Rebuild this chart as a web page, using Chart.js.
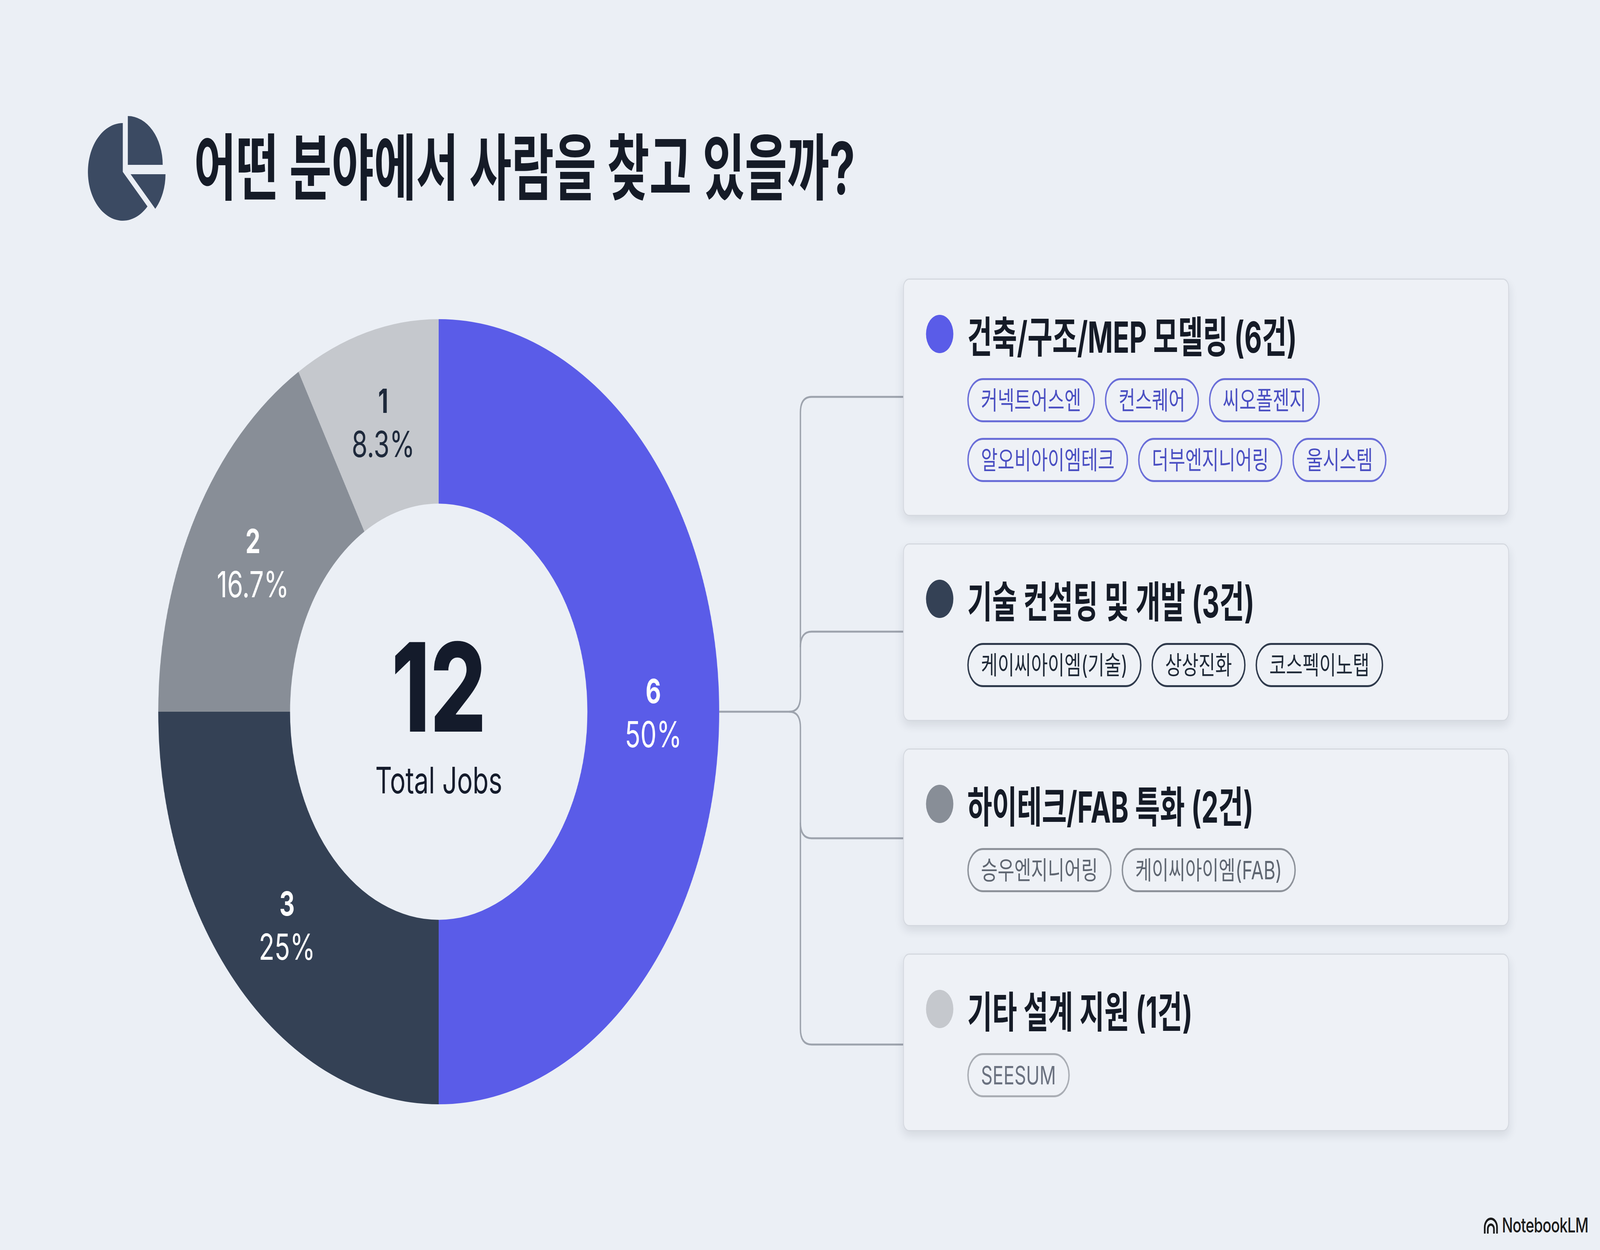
<!DOCTYPE html>
<html lang="ko">
<head>
<meta charset="utf-8">
<script src="https://cdn.jsdelivr.net/npm/chart.js@4.4.1/dist/chart.umd.min.js"></script>
<style>
  html, body { margin: 0; padding: 0; background: #ebeff5; overflow: hidden; }
  #stage {
    width: 5733px; height: 3200px; position: absolute; left: 0; top: 0; overflow: hidden;
    background: #ebeff5; transform-origin: 0 0;
    font-family: Inter, "Noto Sans CJK KR", sans-serif; color: #111827;
  }
  #title {
    position: absolute; left: 695px; top: 330px; height: 200px; line-height: 200px;
    font-size: 185px; font-weight: 700; white-space: nowrap;
    transform: scaleX(0.89); transform-origin: left center; color: #151b27;
  }
  #chartBox { position: absolute; left: 567px; top: 817px; width: 2010px; height: 2010px; }
  #cards {
    position: absolute; left: 3236px; top: 713px; width: 2171px;
    display: flex; flex-direction: column; gap: 70px;
  }
  .card {
    box-sizing: border-box; background: #eef1f6; border: 3px solid #d5d9e0; border-radius: 22px;
    box-shadow: 0 12px 26px rgba(30, 41, 59, 0.10);
    padding: 79px 79px 84px 79px;
  }
  .head { display: flex; align-items: center; height: 120px; }
  .dot { width: 98px; height: 98px; border-radius: 50%; flex: none; margin-right: 50px; }
  .head span {
    display: inline-block; font-size: 110px; font-weight: 700; white-space: nowrap;
    transform: scaleX(0.88); transform-origin: left center; color: #151b27;
  }
  .tags {
    display: flex; flex-wrap: wrap; gap: 40px 36px;
    margin: 53px 0 0 148px; width: 1700px;
  }
  .tag {
    box-sizing: border-box; height: 113px; line-height: 103px; padding: 0 44px;
    border: 5px solid; border-radius: 60px; font-size: 65px; white-space: nowrap;
  }
  #links { position: absolute; left: 0; top: 0; }
  #footer {
    position: absolute; right: 42px; top: 3105px; display: flex; align-items: center;
    font-size: 52px; font-weight: 500; color: #1b1b1b; letter-spacing: -1px;
  }
  #footer svg { margin-right: 14px; }
</style>
</head>
<body>
<div id="stage">

<svg id="icon" width="700" height="700" style="position:absolute;left:0;top:0">
  <path d="M440 440 L528.4 528.4 A125 125 0 1 1 440 315 Z" fill="#3b4a62"/>
  <path d="M458 422 L458 297 A125 125 0 0 1 583 422 Z" fill="#3b4a62"/>
  <path d="M468 446 L593 446 A125 125 0 0 1 556.4 534.4 Z" fill="#3b4a62"/>
</svg>
<div id="title">어떤 분야에서 사람을 찾고 있을까?</div>

<svg id="links" width="5733" height="3200">
  <g fill="none" stroke="#9da3ad" stroke-width="5">
    <path d="M2577 1822 H2828 Q2868 1822 2868 1782 V1056 Q2868 1016 2908 1016 H3236"/>
    <path d="M2828 1822 Q2868 1822 2868 1862 V2634 Q2868 2674 2908 2674 H3236"/>
    <path d="M2868 1657 Q2868 1617 2908 1617 H3236"/>
    <path d="M2868 2106 Q2868 2146 2908 2146 H3236"/>
  </g>
</svg>

<div id="chartBox"><canvas id="donut"></canvas></div>
<div id="cards"></div>

<div id="footer">
  <svg width="52" height="42" viewBox="0 0 52 42">
    <g fill="none" stroke="#1b1b1b" stroke-width="6">
      <path d="M4 42 V26 A22 22 0 0 1 48 26 V42"/>
      <path d="M15 42 V30 A11 11 0 0 1 37 30 V42"/>
    </g>
  </svg>
  NotebookLM
</div>
</div>

<script>
const categories = ['건축/구조/MEP 모델링', '기술 컨설팅 및 개발', '하이테크/FAB 특화', '기타 설계 지원'];
const jobCounts = [6, 3, 2, 1];
const companies = [
  ['커넥트어스엔', '컨스퀘어', '씨오폴젠지', '알오비아이엠테크', '더부엔지니어링', '울시스템'],
  ['케이씨아이엠(기술)', '상상진화', '코스펙이노탭'],
  ['승우엔지니어링', '케이씨아이엠(FAB)'],
  ['SEESUM']
];

const sliceColors = ['#5a5ce8', '#344155', '#888e97', '#c5c8cd'];
const labelColors = ['#ffffff', '#ffffff', '#ffffff', '#1e293b'];
const tagBorder = ['#6a6ed8', '#2f3a4c', '#8d929a', '#a9adb4'];
const tagText = ['#4a4fc2', '#1f2937', '#5f6671', '#6b7280'];

const total = jobCounts.reduce((a, b) => a + b, 0);

// the window may come out smaller than 5733x3200, so stretch the stage to fill it
const stage = document.getElementById('stage');
const sx = window.innerWidth / 5733, sy = window.innerHeight / 3200;
if (sx !== 1 || sy !== 1) stage.style.transform = `scale(${sx}, ${sy})`;

// cards on the right
const cardsEl = document.getElementById('cards');
categories.forEach((name, i) => {
  const card = document.createElement('div');
  card.className = 'card';
  const tags = companies[i].map(c =>
    `<div class="tag" style="border-color:${tagBorder[i]};color:${tagText[i]}">${c}</div>`).join('');
  card.innerHTML =
    `<div class="head"><div class="dot" style="background:${sliceColors[i]}"></div>` +
    `<span>${name} (${jobCounts[i]}건)</span></div>` +
    `<div class="tags">${tags}</div>`;
  cardsEl.appendChild(card);
});

const sliceLabels = {
  id: 'sliceLabels',
  afterDatasetsDraw(chart) {
    const ctx = chart.ctx;
    const meta = chart.getDatasetMeta(0);
    ctx.save();
    ctx.textAlign = 'center';
    ctx.textBaseline = 'alphabetic';
    meta.data.forEach((arc, i) => {
      const p = arc.getCenterPoint();
      const v = jobCounts[i];
      const pct = +(v / total * 100).toFixed(1);
      ctx.fillStyle = labelColors[i];
      ctx.font = '700 85px Inter';
      ctx.fillText(String(v), p.x, p.y - 22);
      ctx.font = '400 92px Inter';
      ctx.fillText(pct + '%', p.x, p.y + 91);
    });
    // centre total
    const c = meta.data[0];
    ctx.fillStyle = '#141b2b';
    ctx.font = '800 315px Inter';
    ctx.fillText(String(total), c.x, c.y + 51);
    ctx.font = '400 93px Inter';
    ctx.fillText('Total Jobs', c.x, c.y + 209);
    ctx.restore();
  }
};

new Chart(document.getElementById('donut'), {
  type: 'doughnut',
  data: {
    labels: categories,
    datasets: [{
      data: jobCounts,
      backgroundColor: sliceColors,
      borderWidth: 0,
      hoverOffset: 0
    }]
  },
  options: {
    responsive: true,
    maintainAspectRatio: false,
    animation: false,
    devicePixelRatio: 1,
    cutout: '53%',
    layout: { padding: 0 },
    plugins: { legend: { display: false }, tooltip: { enabled: false } },
    events: []
  },
  plugins: [sliceLabels]
});
</script>
</body>
</html>
